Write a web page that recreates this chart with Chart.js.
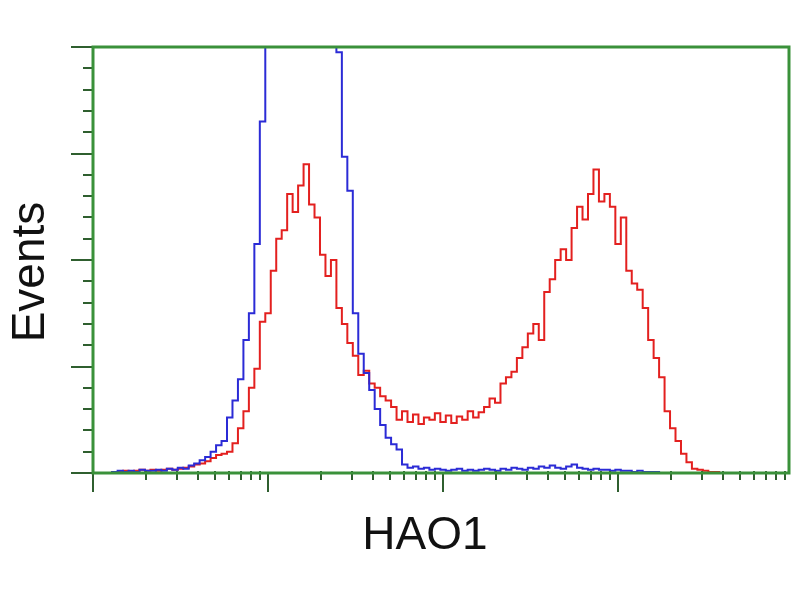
<!DOCTYPE html>
<html>
<head>
<meta charset="utf-8">
<title>HAO1</title>
<script src="https://cdn.jsdelivr.net/npm/chart.js@4"></script>
<style>
  body { margin: 0; background: #fff; }
  canvas { display: block; }
</style>
</head>
<body>
<canvas id="histo" width="800" height="600"></canvas>
<script>
// histogram counts, one value per 8-channel bin (log amplified, 256 channels per decade)
var binWidth = 8;
var blueCounts = [
  0, 0, 0, 0, 1, 2, 1, 2, 1, 3,
  2, 2, 3, 2, 4, 3, 5, 4, 7, 9,
  12, 15, 20, 26, 30, 52, 68, 88, 125, 150,
  215, 330, 410, 480, 540, 590, 620, 640, 650, 630,
  600, 560, 510, 460, 420, 395, 297, 265, 150, 112,
  94, 78, 60, 45, 33, 27, 22, 8, 5, 6,
  4, 5, 3, 4, 3, 2, 3, 4, 2, 3,
  2, 3, 4, 3, 2, 4, 3, 5, 4, 3,
  5, 4, 6, 5, 7, 5, 4, 6, 8, 5,
  4, 3, 4, 3, 3, 2, 3, 2, 2, 1,
  2, 1, 1, 1, 0, 0, 0, 0, 0, 0,
  0, 0, 0, 0, 0, 0, 0, 0, 0, 0,
  0, 0, 0, 0, 0, 0, 0, 0
];
var redCounts = [
  0, 0, 0, 0, 1, 1, 2, 1, 2, 3,
  2, 3, 2, 3, 4, 3, 4, 5, 6, 8,
  9, 11, 14, 17, 18, 20, 28, 42, 58, 80,
  98, 142, 150, 190, 220, 228, 262, 245, 270, 290,
  252, 240, 205, 185, 200, 155, 140, 122, 110, 92,
  96, 84, 80, 72, 68, 62, 50, 58, 48, 55,
  46, 52, 50, 56, 48, 54, 47, 53, 50, 58,
  52, 57, 62, 70, 66, 84, 90, 95, 108, 118,
  131, 140, 125, 170, 182, 200, 210, 200, 230, 250,
  238, 262, 285, 255, 262, 250, 215, 240, 190, 178,
  172, 155, 125, 108, 90, 58, 42, 30, 18, 10,
  4, 3, 2, 1, 1, 0, 0, 0, 0, 0,
  0, 0, 0, 0, 0, 0, 0, 0
];
var channels = blueCounts.map(function(c, i){ return i * binWidth; });

// axis ticks (no tick labels drawn)
var channelMax = 1018;
var decadeValues = [1, 10, 100, 1000];
var minorFactors = [2, 3, 4, 5, 6, 7, 8, 9];
var yMax = 400;
var yMajorTicks = [0, 100, 200, 300, 400];
var yMinorStep = 20;
var xTitle = "HAO1";
var yTitle = "Events";

function toChannel(v){
  return 256 * Math.log10(v);
}

function toPoints(counts){
  return counts.map(function(c, i){ return {x: channels[i], y: c}; });
}

var frameColor = "#3a913a";
var tickColor = "#2f5f2f";

var framePlugin = {
  id: 'frame',
  afterDraw: function(chart){
    var ctx = chart.ctx;
    var a = chart.chartArea;
    var xs = chart.scales.x, ys = chart.scales.y;
    ctx.save();
    // tick marks
    ctx.strokeStyle = tickColor;
    ctx.lineWidth = 2;
    ctx.beginPath();
    for (var v = 0; v <= yMax; v += yMinorStep){
      var py = Math.round(ys.getPixelForValue(v));
      var len = yMajorTicks.indexOf(v) >= 0 ? 22 : 10;
      ctx.moveTo(a.left - len, py);
      ctx.lineTo(a.left, py);
    }
    decadeValues.forEach(function(d){
      var px = Math.round(xs.getPixelForValue(toChannel(d)));
      ctx.moveTo(px, a.bottom);
      ctx.lineTo(px, a.bottom + 19);
      minorFactors.forEach(function(m){
        var ch = toChannel(d * m);
        if (ch > channelMax) return;
        var mx = Math.round(xs.getPixelForValue(ch));
        ctx.moveTo(mx, a.bottom - 2);
        ctx.lineTo(mx, a.bottom + 7);
      });
    });
    ctx.stroke();
    // frame
    ctx.strokeStyle = frameColor;
    ctx.lineWidth = 3;
    ctx.strokeRect(a.left, a.top, a.right - a.left, a.bottom - a.top);
    // titles
    ctx.fillStyle = "#111";
    ctx.font = "46px 'Liberation Sans', Arial, sans-serif";
    ctx.textAlign = "center";
    ctx.textBaseline = "alphabetic";
    ctx.fillText(xTitle, 425, 549);
    ctx.translate(44, 272);
    ctx.rotate(-Math.PI / 2);
    ctx.fillText(yTitle, 0, 0);
    ctx.restore();
  }
};

var ctx = document.getElementById('histo');
var myChart = new Chart(ctx, {
  type: 'line',
  data: {
    datasets: [
      {
        label: 'control',
        data: toPoints(blueCounts),
        borderColor: '#2b2bd6',
        borderWidth: 2,
        pointRadius: 0,
        stepped: 'middle',
        fill: false
      },
      {
        label: 'HAO1',
        data: toPoints(redCounts),
        borderColor: '#e3201f',
        borderWidth: 2,
        pointRadius: 0,
        stepped: 'middle',
        fill: false
      }
    ]
  },
  options: {
    responsive: false,
    animation: false,
    layout: { padding: { left: 93, top: 47, right: 11, bottom: 127 } },
    plugins: {
      legend: { display: false },
      tooltip: { enabled: false }
    },
    scales: {
      x: { type: 'linear', min: 0, max: channelMax, display: false },
      y: { type: 'linear', min: 0, max: yMax, display: false }
    }
  },
  plugins: [framePlugin]
});
</script>
</body>
</html>
